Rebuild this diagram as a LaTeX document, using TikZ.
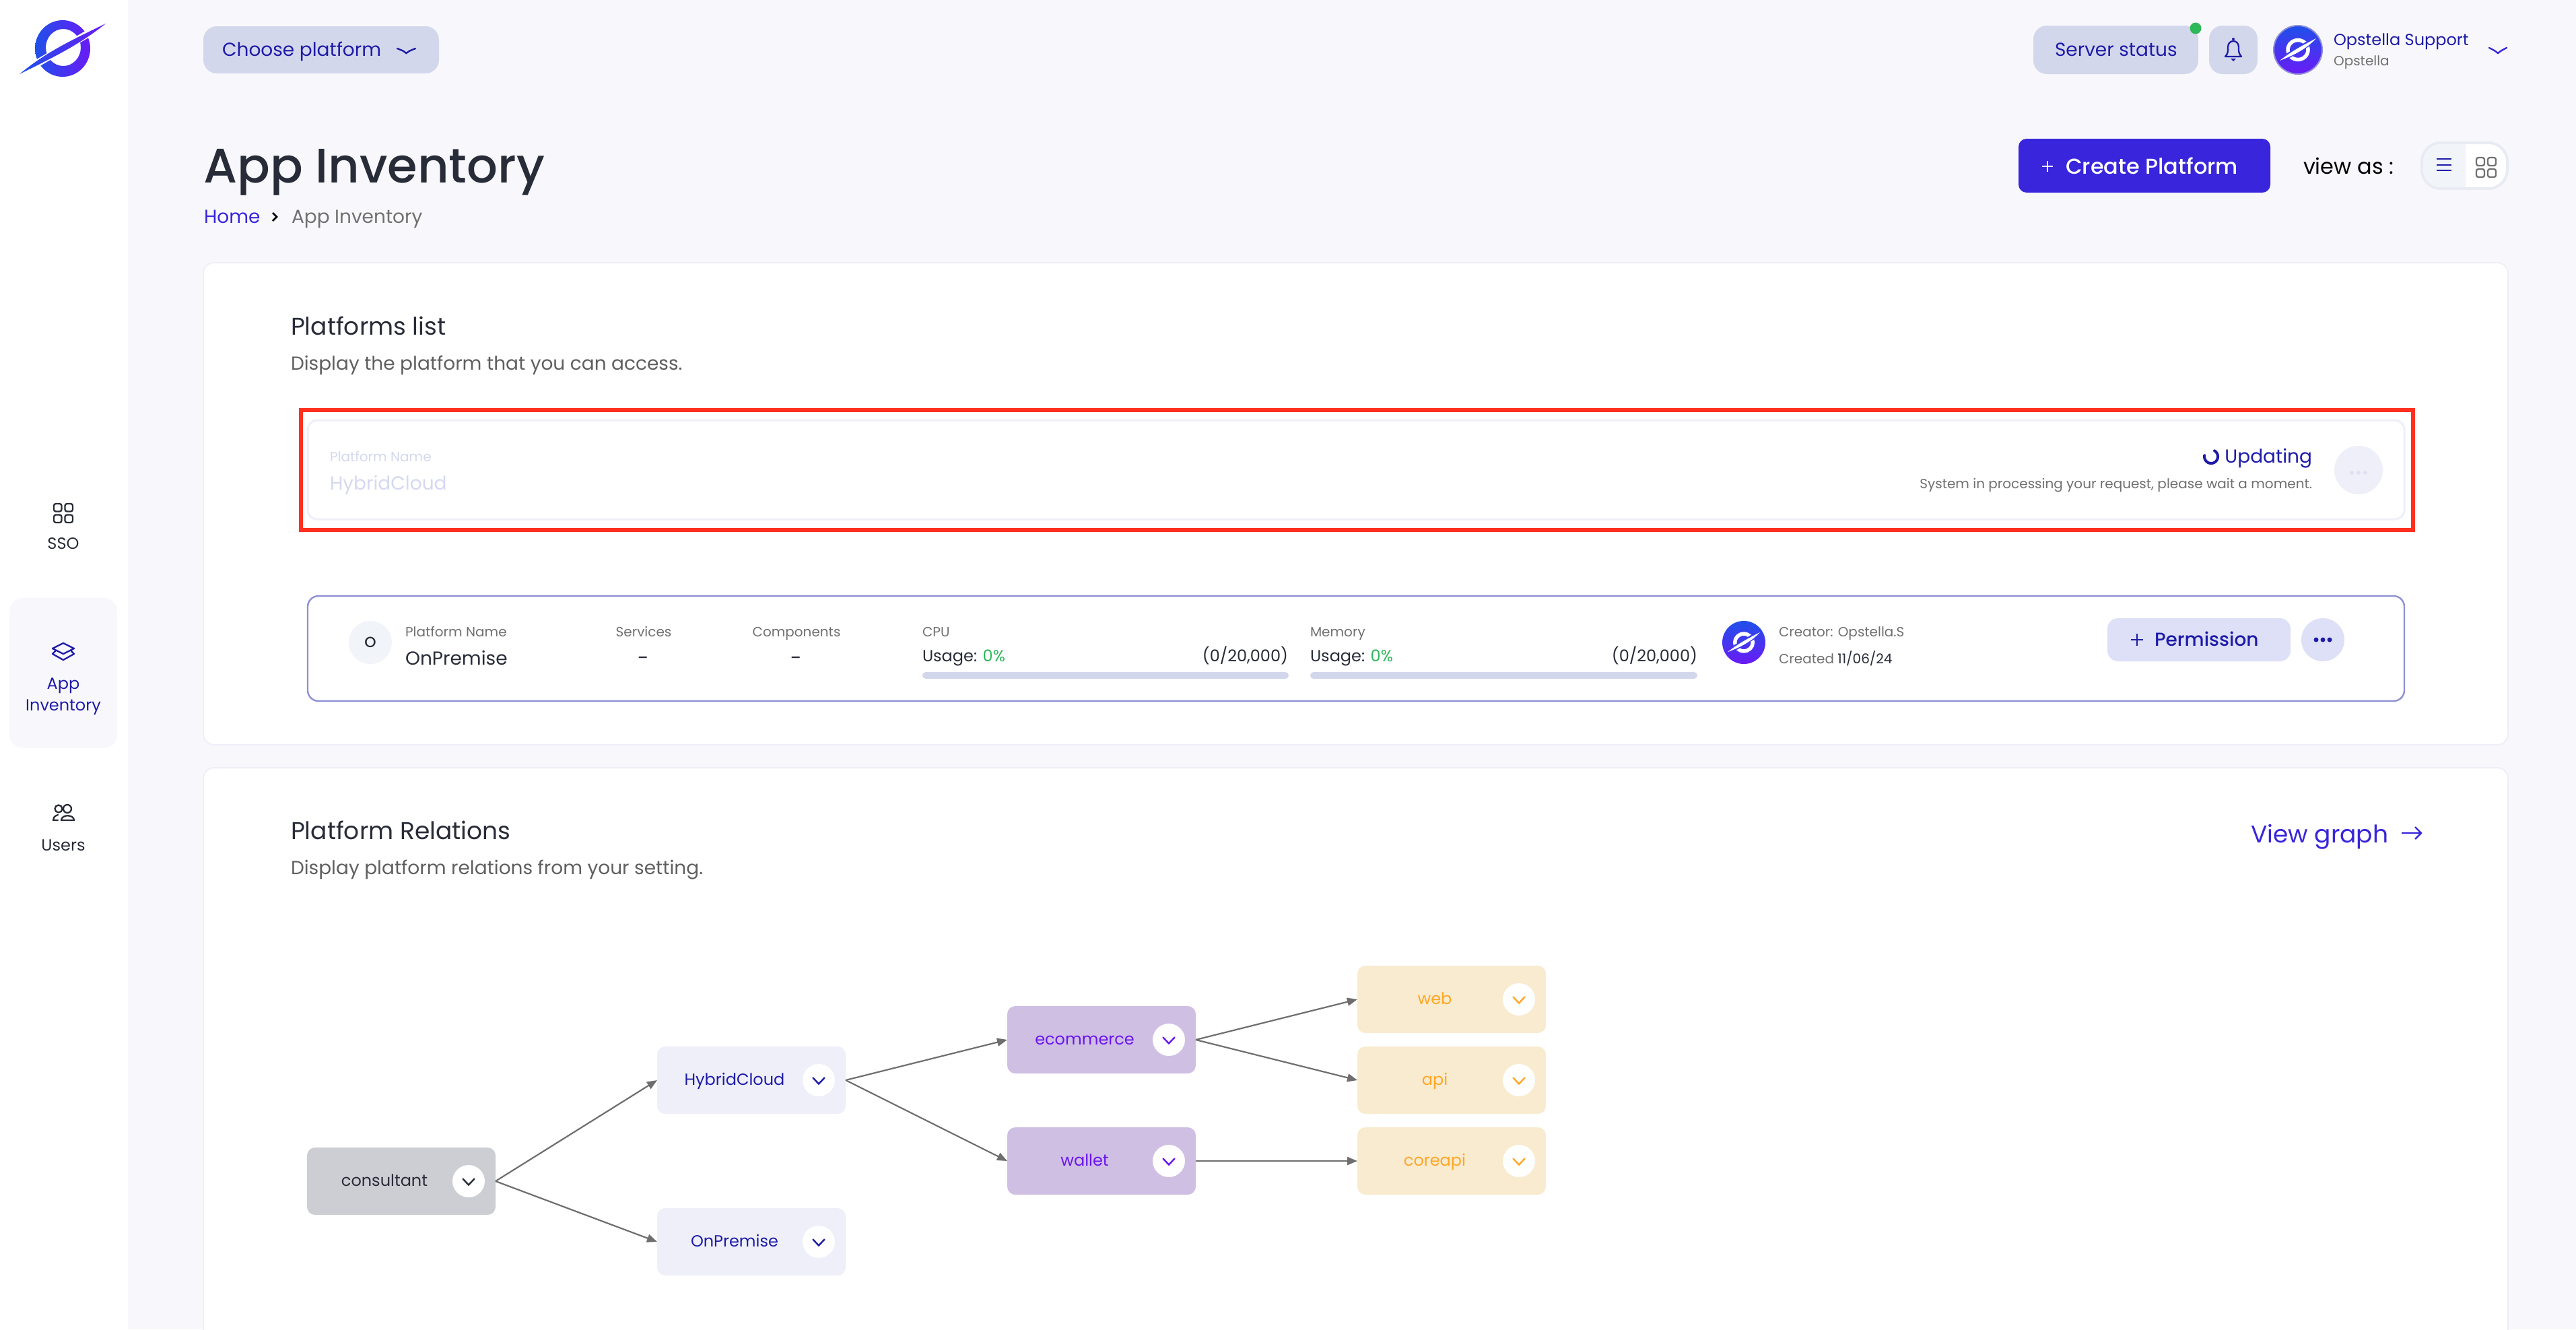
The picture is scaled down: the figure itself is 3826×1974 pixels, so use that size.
\documentclass[tikz,border=0pt]{standalone}
\usepackage{fontspec}
\setmainfont{Poppins}
\newfontfamily\popm{Poppins Medium}
\usetikzlibrary{arrows.meta}
\definecolor{pagebg}{HTML}{F8F8FC}
\definecolor{btnfill}{HTML}{D3D7EC}
\definecolor{navy}{HTML}{1E1BA8}
\definecolor{ink}{HTML}{282C38}
\definecolor{graytxt}{HTML}{707070}
\definecolor{indigo}{HTML}{3825DC}
\definecolor{redbox}{HTML}{FF3020}
\definecolor{faded}{HTML}{D5D8F0}
\definecolor{okgreen}{HTML}{2DB85A}
\definecolor{cardline}{HTML}{8F8FD6}
\definecolor{softbtn}{HTML}{DDE0F6}
\definecolor{purp}{HTML}{6A14F0}
\definecolor{orng}{HTML}{FFA726}
\definecolor{nodegray}{HTML}{CDCED3}
\definecolor{nodeblue}{HTML}{EEEFF8}
\definecolor{nodepurp}{HTML}{CFBFE3}
\definecolor{nodeorng}{HTML}{F8EBCF}
\definecolor{edgec}{HTML}{6E6E6E}
\definecolor{logoa}{HTML}{1F50EA}
\definecolor{logob}{HTML}{6A1BF5}
\definecolor{toggleline}{HTML}{E8EBF3}
\definecolor{togglefill}{HTML}{F1F4F8}
\newcommand{\fz}[1]{\fontsize{#1}{#1}\selectfont}
\tikzset{
  txt/.style={inner sep=0pt,outer sep=0pt,anchor=base west},
  txtc/.style={inner sep=0pt,outer sep=0pt,anchor=base},
  txtr/.style={inner sep=0pt,outer sep=0pt,anchor=base east},
  pillbtn/.style={fill=btnfill,rounded corners=20pt},
  card/.style={fill=white,draw=#1,rounded corners=16pt},
  flownode/.style={minimum width=280pt,minimum height=100pt,inner sep=0pt,outer sep=0pt,rounded corners=12pt,rectangle},
  flowlabel/.style={inner sep=0pt,outer sep=0pt,anchor=base,font={\fz{24}}},
  chevdot/.style={circle,fill=white,minimum size=48pt,inner sep=0pt,outer sep=0pt},
  chevstroke/.style={line width=2.4pt,line cap=round,line join=miter},
  flowedge/.style={draw=edgec,line width=2.2pt,-{Triangle[length=15pt,width=12pt]}},
  icon/.style={line width=2.3pt,line join=round,line cap=round},
  gridsq/.style={rounded corners=3pt,line width=2.3pt},
  roundnode/.style={circle,inner sep=0pt,outer sep=0pt}
}
% flow node: name, x, y, fill, text colour, text
\newcommand{\flowbox}[6]{%
  \node[flownode,fill=#4] (#1) at (#2,#3) {};
  \node[flowlabel,text=#5] (#1-label) at ([shift={(-25,7)}]#1.center) {#6};
  \node[chevdot] (#1-btn) at ([shift={(-40,0)}]#1.east) {};
  \draw[chevstroke,draw=#5] ([shift={(-8.5,-3.5)}]#1-btn.center) -- ([shift={(0,5.5)}]#1-btn.center) -- ([shift={(8.5,-3.5)}]#1-btn.center);
}
% white logo on a gradient disc: name, x, y, radius
\newcommand{\avatar}[4]{%
  \node[roundnode,minimum size=#4*2pt,top color=logoa,bottom color=logob] (#1) at (#2,#3) {};
  \begin{scope}[shift={(#2,#3)},scale=#4/36]
    \draw[white,line width=5.5pt] (0,0) ellipse (15pt and 14.5pt);
    \draw[line width=8pt,draw=logoa!70!logob] (-15,9) -- (15,-9);
    \fill[white] (-27,16) .. controls (-8,1) and (6,-6) .. (27,-17) .. controls (12,-1) and (-6,8) .. (-27,16) -- cycle;
  \end{scope}
}
\newcommand{\grid}[4]{% x, y, cell, colour
  \pgfmathsetmacro{\gb}{#3+5}
  \foreach \ox/\oy in {0/0,\gb/0,0/\gb,\gb/\gb}
    \draw[gridsq,draw=#4] (#1+\ox,#2+\oy) rectangle ++(#3,#3);
}
\begin{document}
\begin{tikzpicture}[x=1pt,y=-1pt]
\useasboundingbox (0,0) rectangle (3826,1974);
\begin{scope}
\clip (0,0) rectangle (3826,1974);
\fill[pagebg] (0,0) rectangle (3826,1974);
\fill[white] (0,0) rectangle (190,1974);
% logo
\shade[left color=logoa,right color=logob,even odd rule]
  (93,72) ellipse (41pt and 42pt) (94,70.5) ellipse (26pt and 27.5pt);
\draw[white,line width=11pt] (50,97) -- (136,47);
\shade[left color=logoa,right color=logob]
  (29,110) .. controls (70,76) and (110,58) .. (157,35) .. controls (120,65) and (80,85) .. (29,110) -- cycle;
% sidebar
\fill[pagebg,rounded corners=20pt] (14,888) rectangle (174,1111);
\grid{80}{748}{11.5}{ink}
\node[txtc,font={\fz{24}},text=ink] (sso) at (94,815) {SSO};
\draw[icon,draw=navy] (94,955) -- (110,963) -- (94,971) -- (78,963) -- cycle;
\draw[icon,draw=navy] (82,967) -- (78,971) -- (94,980) -- (110,971) -- (106,967);
\node[txtc,font={\fz{24}},text=navy] (nav-app) at (94,1023) {App};
\node[txtc,font={\fz{24}},text=navy] (nav-inv) at (94,1055) {Inventory};
\draw[icon,draw=ink] (87,1201) circle (5.5pt);
\draw[icon,draw=ink] (100,1201) circle (6pt);
\draw[icon,draw=ink] (91,1218) -- (110,1218) .. controls (110,1209) and (91,1209) .. (91,1218) -- cycle;
\draw[icon,draw=ink] (86,1210) .. controls (80,1212) and (79,1215) .. (79,1218) -- (86,1218);
\node[txtc,font={\fz{24}},text=ink] (nav-users) at (94,1263) {Users};
% top bar
\fill[pillbtn] (302,39) rectangle (652,109);
\node[txt,font={\fz{28}},text=navy] (choose) at (330,83) {Choose platform};
\draw[chevstroke,draw=navy] (590,72) .. controls (600,76) .. (603.5,79) .. controls (607,76) .. (617,72);
\fill[pillbtn] (3020,38) rectangle (3265,110);
\node[txt,font={\fz{28}},text=navy] (status) at (3052,83) {Server status};
\node[roundnode,fill=okgreen,minimum size=17pt] (statusdot) at (3261,42) {};
\fill[pillbtn] (3281,38) rectangle (3353,110);
\draw[line width=2.3pt,draw=navy,line join=round] (3305,84) .. controls (3310,78) and (3309,75) .. (3309,70) .. controls (3309,58) and (3325,58) .. (3325,70) .. controls (3325,75) and (3324,78) .. (3329,84) -- cycle;
\fill[navy] (3313,87) -- (3321,87) -- (3317,91) -- cycle;
\fill[navy] (3317,58) circle (2pt);
\avatar{useravatar}{3413}{74}{36}
\draw[cardline,line width=2pt] (useravatar) circle (36pt);
\node[txt,font={\fz{24}},text=navy] (username) at (3466,67) {Opstella Support};
\node[txt,font={\fz{20}},text=graytxt] (userorg) at (3466,97) {Opstella};
\draw[chevstroke,draw=indigo] (3697,71) .. controls (3705,75) .. (3710,79) .. controls (3715,75) .. (3723,71);
% heading
\node[txt,font={\fz{72}\popm},text=ink] (title) at (302,271) {App Inventory};
\node[txt,font={\fz{28}},text=indigo] (crumb-home) at (303,331) {Home};
\draw[line width=2.6pt,black] (405,316) -- (411,322) -- (405,328);
\node[txt,font={\fz{28}},text=graytxt] (crumb-here) at (433,331) {App Inventory};
% create platform
\fill[indigo,rounded corners=12pt] (2998,206) rectangle (3372,286);
\draw[white,line width=1.8pt] (3033,247) -- (3049,247) (3041,239) -- (3041,255);
\node[txt,font={\fz{32}\popm},text=white] (create) at (3068,258) {Create Platform};
\node[txt,font={\fz{32}},text=black] (viewas) at (3421,258) {view as :};
\draw[fill=white,draw=toggleline,line width=4pt,rounded corners=28pt] (3597,212) rectangle (3724,280);
\begin{scope}
\clip (3590,205) rectangle (3662,290);
\fill[togglefill,rounded corners=26pt] (3599,214) rectangle (3700,278);
\end{scope}
\draw[navy,line width=2.8pt] (3619,236) -- (3641,236) (3619,245) -- (3641,245) (3619,253) -- (3641,253);
\grid{3678}{234}{12}{graytxt}
% card 1
\draw[card=nodeblue,line width=2pt] (302,390) rectangle (3725,1106);
\node[txt,font={\fz{36}},text=ink] (list-title) at (432,497) {Platforms list};
\node[txt,font={\fz{28}},text=graytxt!85!black] (list-sub) at (432,549) {Display the platform that you can access.};
% updating row
\draw[draw=nodeblue,fill=white,line width=3pt,rounded corners=14pt] (457,624) rectangle (3571,771);
\node[txt,font={\fz{20}},text=faded] (up-label) at (490,685) {Platform Name};
\node[txt,font={\fz{28}},text=faded] (up-name) at (490,727) {HybridCloud};
\draw[line width=4pt,navy,line cap=round] plot[domain=-60:190,samples=30,smooth] ({3284+10*cos(\x)},{678-10*sin(\x+180)});
\node[txtr,font={\fz{28}},text=navy] (up-status) at (3434,687) {Updating};
\node[txtr,font={\fz{20}},text=graytxt] (up-msg) at (3434,725) {System in processing your request, please wait a moment.};
\node[roundnode,fill=nodeblue,minimum size=72pt] (up-menu) at (3503,698) {};
\foreach \dx in {-10,0,10} \fill[faded!60!nodeblue] (3503+\dx,702) circle (3pt);
\draw[redbox,line width=6pt] (447,609) rectangle (3584,787);
% onpremise row
\draw[card=cardline,line width=2.4pt] (457,885) rectangle (3571,1041);
\node[roundnode,fill=togglefill,minimum size=64pt] (op-badge) at (550,954) {};
\node[font={\fz{22}\popm},text=ink,inner sep=0pt] (op-initial) at (op-badge.center) {O};
\node[txt,font={\fz{20}},text=graytxt] (op-label) at (602,945) {Platform Name};
\node[txt,font={\fz{28}},text=ink] (op-name) at (602,987) {OnPremise};
\node[txtc,font={\fz{20}},text=graytxt] (op-svc) at (956,945) {Services};
\node[txtc,font={\fz{30}},text=ink] (op-svcv) at (956,987) {-};
\node[txtc,font={\fz{20}},text=graytxt] (op-cmp) at (1183,945) {Components};
\node[txtc,font={\fz{30}},text=ink] (op-cmpv) at (1183,987) {-};
\node[txt,font={\fz{20}},text=graytxt] (cpu) at (1370,945) {CPU};
\node[txt,font={\fz{24}},text=ink] (cpu-use) at (1370,982) {Usage: \textcolor{okgreen}{0\%}};
\node[txtr,font={\fz{24}},text=ink] (cpu-val) at (1913,982) {(0/20,000)};
\fill[btnfill,rounded corners=5pt] (1370,998) rectangle (1914,1008);
\node[txt,font={\fz{20}},text=graytxt] (mem) at (1946,945) {Memory};
\node[txt,font={\fz{24}},text=ink] (mem-use) at (1946,982) {Usage: \textcolor{okgreen}{0\%}};
\node[txtr,font={\fz{24}},text=ink] (mem-val) at (2521,982) {(0/20,000)};
\fill[btnfill,rounded corners=5pt] (1946,998) rectangle (2521,1008);
\avatar{op-avatar}{2590}{954}{32}
\node[txt,font={\fz{20}},text=graytxt] (op-creator) at (2642,945) {Creator: Opstella.S};
\node[txt,font={\fz{20}},text=graytxt] (op-created) at (2642,985) {Created \textcolor{ink}{11/06/24}};
\fill[softbtn,rounded corners=16pt] (3130,918) rectangle (3402,982);
\draw[navy,line width=1.8pt] (3165,950) -- (3183,950) (3174,941) -- (3174,959);
\node[txt,font={\fz{28}\popm},text=navy] (op-perm) at (3200,959) {Permission};
\node[roundnode,fill=softbtn,minimum size=64pt] (op-menu) at (3450,950) {};
\foreach \dx in {-10,0,10} \fill[navy] (3450+\dx,950) circle (3.5pt);
% card 2
\draw[card=nodeblue,line width=2pt] (302,1140) rectangle (3725,2040);
\node[txt,font={\fz{36}},text=ink] (rel-title) at (432,1246) {Platform Relations};
\node[txt,font={\fz{28}},text=graytxt!85!black] (rel-sub) at (432,1298) {Display platform relations from your setting.};
\node[txt,font={\fz{36}},text=indigo] (rel-link) at (3343,1251) {View graph};
\draw[indigo,line width=2.4pt] (3567,1237) -- (3596,1237) (3587,1228) -- (3596,1237) -- (3587,1246);
% flow
\flowbox{consultant}{596}{1754}{nodegray}{ink}{consultant}
\flowbox{hybrid}{1116}{1604}{nodeblue}{navy}{HybridCloud}
\flowbox{onprem}{1116}{1844}{nodeblue}{navy}{OnPremise}
\flowbox{ecommerce}{1636}{1544}{nodepurp}{purp}{ecommerce}
\flowbox{wallet}{1636}{1724}{nodepurp}{purp}{wallet}
\flowbox{web}{2156}{1484}{nodeorng}{orng}{web}
\flowbox{api}{2156}{1604}{nodeorng}{orng}{api}
\flowbox{coreapi}{2156}{1724}{nodeorng}{orng}{coreapi}
\draw[flowedge] (consultant.east) -- (hybrid.west);
\draw[flowedge] (consultant.east) -- (onprem.west);
\draw[flowedge] (hybrid.east) -- (ecommerce.west);
\draw[flowedge] (hybrid.east) -- (wallet.west);
\draw[flowedge] (ecommerce.east) -- (web.west);
\draw[flowedge] (ecommerce.east) -- (api.west);
\draw[flowedge] (wallet.east) -- (coreapi.west);
\end{scope}
\end{tikzpicture}
\end{document}
